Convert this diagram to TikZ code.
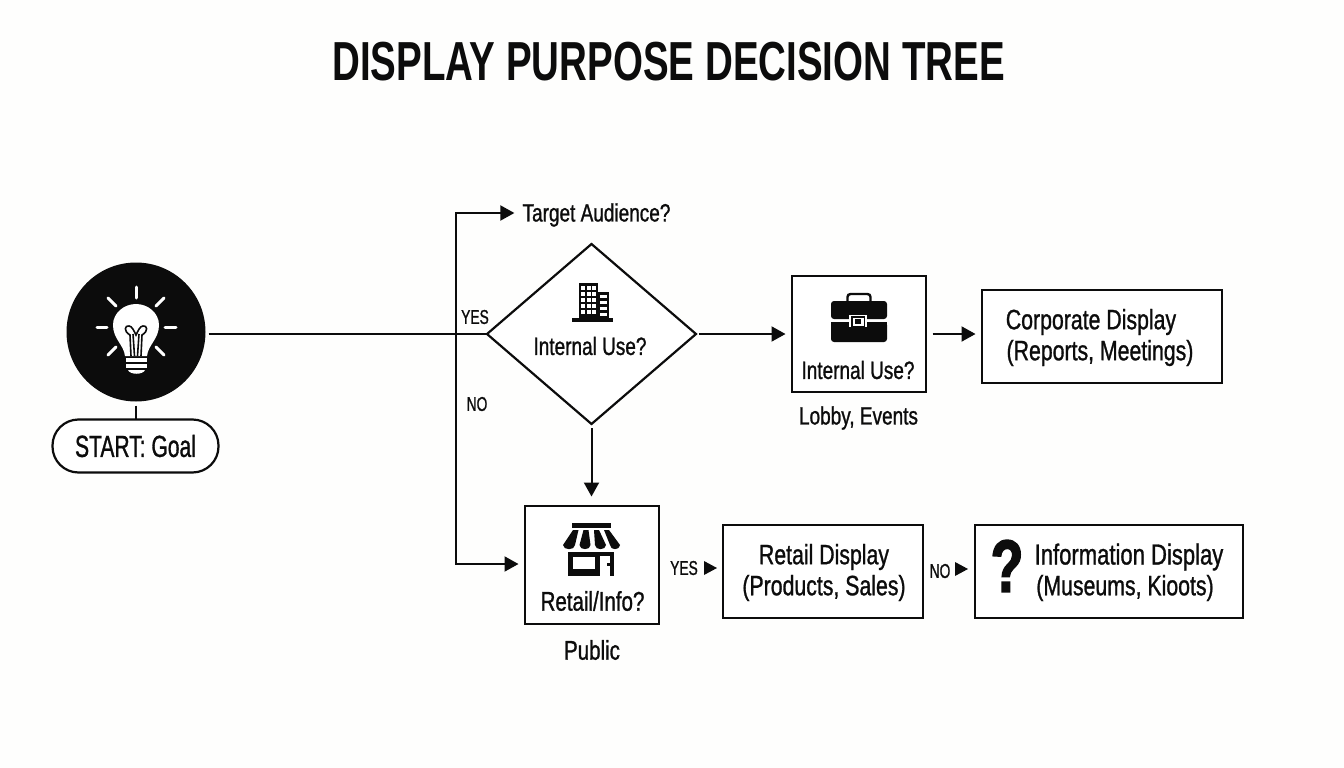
\documentclass[tikz,border=0pt]{standalone}
\usepackage{fontspec}
\setmainfont{Liberation Sans}[FakeStretch=0.76,FakeBold=1]
\newfontfamily\titlefont{Liberation Sans Bold}[FakeStretch=0.70]
\newfontfamily\narrowfont{Liberation Sans}[FakeStretch=0.69,FakeBold=1]
\newfontfamily\qfont{Liberation Sans Bold}[FakeStretch=0.72,FakeBold=2.2]
\usetikzlibrary{shapes.geometric,arrows.meta}
\definecolor{ink}{HTML}{0C0C0C}
\definecolor{paper}{HTML}{FEFEFD}
\tikzset{
  boxnode/.style={draw=ink,line width=2pt,fill=white,inner sep=0pt,outer sep=0pt,anchor=north west},
  conn/.style={draw=ink,line width=2pt},
  arrowconn/.style={conn,-{Triangle[length=14pt,width=15pt]}},
  lbl/.style={text=ink,inner sep=0pt,font=\fontsize{25}{28}\selectfont,align=center},
  biglbl/.style={text=ink,inner sep=0pt,font=\fontsize{28}{32}\selectfont,align=center},
  smalllbl/.style={text=ink,inner sep=0pt,font=\fontsize{20}{24}\selectfont\narrowfont},
  tri/.style={fill=ink,draw=none},
  raybar/.style={draw=white,line width=3pt,line cap=round}
}
\begin{document}
\begin{tikzpicture}[x=1pt,y=-1pt]
\useasboundingbox (0,0) rectangle (1344,768);
\fill[paper] (0,0) rectangle (1344,768);
\node[text=ink,inner sep=0pt,font=\fontsize{55}{60}\selectfont\titlefont] (title) at (668.5,62) {DISPLAY PURPOSE DECISION TREE};

% nodes
\node[circle,fill=ink,draw=none,minimum size=139pt,inner sep=0pt,outer sep=0pt] (start) at (136,332) {};
\node[draw=ink,line width=2.2pt,fill=white,rounded corners=26pt,minimum width=166pt,minimum height=53pt,inner sep=0pt,outer sep=0pt,font=\fontsize{30.5}{34}\selectfont\narrowfont,text=ink] (goal) at (135.5,446) {START: Goal};
\node[diamond,draw=ink,line width=2.2pt,fill=white,minimum width=209pt,minimum height=180pt,inner sep=0pt,outer sep=0pt,aspect=1.16] (dia) at (591.5,334) {};
\node[lbl] (dialbl) at (590,346) {Internal Use?};
\node[boxnode,minimum width=134pt,minimum height=116pt] (ibox) at (791.5,275.5) {};
\node[lbl] (ilbl) at (858,370) {Internal Use?};
\node[boxnode,minimum width=240pt,minimum height=93pt] (corp) at (981.5,289.5) {};
\node[biglbl] (corp1) at (1091,322) {Corporate Display};
\node[biglbl] (corp2) at (1100,353) {(Reports, Meetings)};
\node[lbl] (lobby) at (858.5,418) {Lobby, Events};
\node[boxnode,minimum width=134pt,minimum height=118pt] (rbox) at (524.5,505.5) {};
\node[lbl,font=\fontsize{27}{30}\selectfont] (rlbl) at (592.5,601) {Retail/Info?};
\node[lbl,font=\fontsize{27}{30}\selectfont] (public) at (592,650) {Public};
\node[boxnode,minimum width=200pt,minimum height=93pt] (rdisp) at (722.5,524.5) {};
\node[biglbl] (rd1) at (824,557) {Retail Display};
\node[biglbl] (rd2) at (824,588) {(Products, Sales)};
\node[boxnode,minimum width=268pt,minimum height=93pt] (idisp) at (974.5,524.5) {};
\node[biglbl,font=\fontsize{29}{32}\selectfont] (id1) at (1129,557) {Information Display};
\node[biglbl] (id2) at (1125,588) {(Museums, Kioots)};
\node[text=ink,inner sep=0pt,font=\fontsize{74}{74}\selectfont\qfont] (qm) at (1007,566) {?};
\node[lbl] (target) at (596.5,215) {Target Audience?};
\node[smalllbl] (yes) at (475,317) {YES};
\node[smalllbl] (no) at (477,404) {NO};
\node[smalllbl] (yes2) at (684,568) {YES};
\node[smalllbl] (no2) at (940,571) {NO};
\coordinate (tri1) at (704,568);
\coordinate (tri2) at (955,569);
\coordinate (trunk) at (456,334);
\coordinate (topc) at (456,213);
\coordinate (botc) at (456,564);

% connectors
\draw[conn,shorten <=3pt] (start.east |- dia.west) -- (dia.west);
\draw[conn,shorten <=4pt] (start.south) -- (start.south |- goal.north);
\draw[arrowconn,shorten >=8pt] (trunk) -- (topc) -- (target.west |- topc);
\draw[arrowconn,shorten >=6pt] (trunk) -- (botc) -- (rbox.west |- botc);
\draw[arrowconn,shorten <=3pt,shorten >=6pt] (dia.east) -- (ibox.west |- dia.east);
\draw[arrowconn,shorten <=4pt,shorten >=9pt] (dia.south) -- (dia.south |- rbox.north);
\draw[arrowconn,shorten <=7pt,shorten >=6pt] (ibox.east |- dia.east) -- (corp.west |- dia.east);
\fill[tri] (tri1) ++(0,-7) -- ++(13,7) -- ++(-13,7) -- cycle;
\fill[tri] (tri2) ++(0,-7) -- ++(13,7) -- ++(-13,7) -- cycle;

% bulb icon
\foreach \a/\b/\c/\d in {136/287/136/298, 97/327/107/327, 165/327/176/327, 108/298/116/306, 164/298/156/306, 108/355/116/347, 164/355/156/347}
  \draw[raybar] (\a,\b) -- (\c,\d);
\fill[white] (125,356) .. controls (124,345) and (113,339) .. (113,325)
  .. controls (113,313) and (124,304) .. (136,304)
  .. controls (148,304) and (159,313) .. (159,325)
  .. controls (159,339) and (148,345) .. (147,356) -- cycle;
\draw[ink,line width=1.6pt] (131,356) -- (130,335) .. controls (123,331) and (125,325) .. (129,326) .. controls (132,326) and (134,331) .. (136,335) .. controls (138,331) and (140,326) .. (143,326) .. controls (147,325) and (149,331) .. (142,335) -- (141,356);
\draw[ink,line width=1.6pt] (134.5,356) -- (133,334) (137.5,356) -- (139,334);
\fill[white] (126,358) rectangle (147,362);
\fill[white] (126,364) rectangle (147,368);
\fill[white] (128,370) -- (145,370) .. controls (143,375) and (130,375) .. (128,370) -- cycle;

% building icon
\fill[ink] (579,283) rectangle (598,319);
\fill[ink] (598,292) rectangle (609,319);
\fill[ink] (572,318) rectangle (613,322);
\foreach \cx in {581,586.5,592}
  \foreach \cy in {286,292,298,304,310}
    \fill[white] (\cx,\cy) rectangle ++(4,4);
\foreach \cy in {295,301,307,313}
  \fill[white] (600,\cy) rectangle ++(7,3);

% briefcase icon
\fill[ink,rounded corners=3pt] (831,301) rectangle (887,319);
\fill[ink,rounded corners=3pt] (831,322) rectangle (887,342);
\fill[ink] (831,321.5) rectangle (887,325);
\draw[ink,line width=2.4pt,rounded corners=3pt] (847.5,302) -- (847.5,294) -- (870.5,294) -- (870.5,302);
\fill[white] (849,315) rectangle (867,327);
\fill[ink] (851,316) rectangle (865,327);
\fill[white] (852.5,317.5) rectangle (863.5,325.5);
\fill[ink] (855,319) rectangle (861,324);

% shop icon
\fill[ink] (572,522.5) rectangle (611,527.5);
\fill[ink] (568,552) rectangle (600,575.5);
\fill[ink] (600,552) rectangle (614,556);
\fill[ink] (610,552) rectangle (614,575.5);
\fill[white] (572.5,557) rectangle (595,568.5);
\fill[ink] (607,563) rectangle (609.5,566);
\foreach \ta/\tb/\ba/\bb in {573/578.5/563/575, 583.5/588.5/579.5/590.5, 594/599/595/606, 604/609/610/620}
  \fill[ink] (\ta,530) -- (\tb,530) -- (\bb,545)
     .. controls (\bb,550.5) and (\ba,550.5) .. (\ba,545) -- cycle;
\end{tikzpicture}
\end{document}
